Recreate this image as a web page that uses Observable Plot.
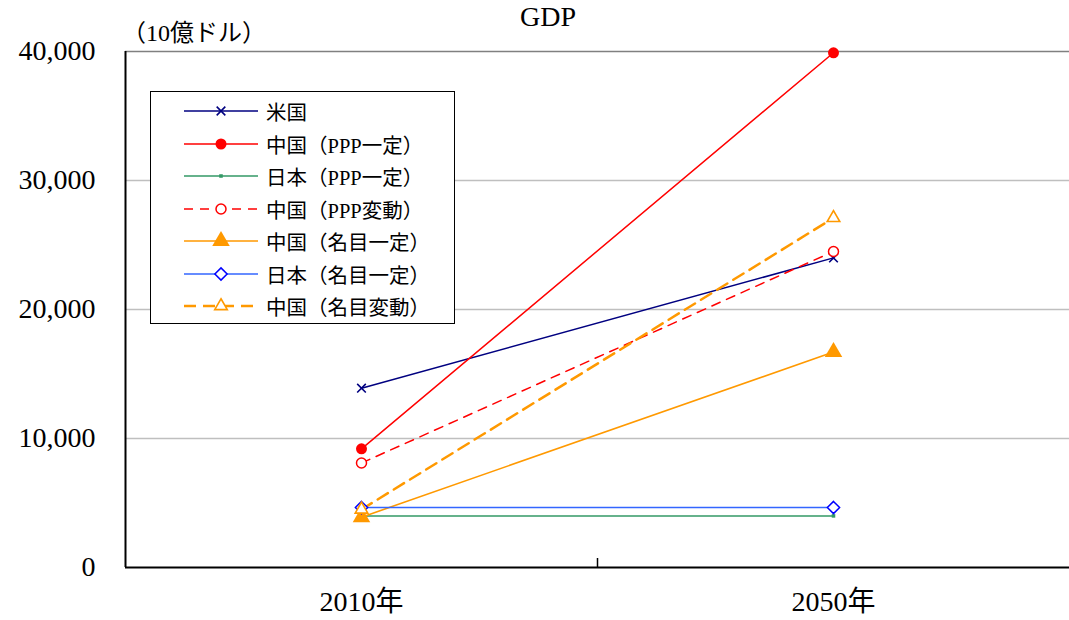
<!DOCTYPE html>
<html><head><meta charset="utf-8">
<script src="https://cdn.jsdelivr.net/npm/d3@7"></script>
<script src="https://cdn.jsdelivr.net/npm/@observablehq/plot@0.6"></script>
<style>
body{margin:0;background:#fff;font-family:"Liberation Serif","Noto Sans CJK JP",serif;color:#000;}
#wrap{position:relative;width:1069px;height:620px;overflow:hidden;}
#title{position:relative;height:36px;}
#title span{position:absolute;left:548px;top:17px;transform:translate(-50%,-50%);font-size:28px;white-space:nowrap;}
#unit{position:absolute;left:122px;top:18px;font-size:24px;white-space:nowrap;line-height:30px;}
#legend{position:absolute;left:150px;top:91px;width:303px;height:231px;border:1.5px solid #000;background:#fff;}
.row{position:absolute;left:0;height:24px;display:flex;align-items:center;}
.row svg{display:block;}
.row span{font-size:20.5px;margin-left:8px;white-space:nowrap;}
</style></head><body>
<div id="wrap">
  <div id="title"><span>GDP</span></div>
  <div id="chart"></div>
  <div id="unit">（10億ドル）</div>
  <div id="legend"></div>
</div>
<script>
// ---- data ----
const years = [2010, 2050];
const yearLabels = ["2010年", "2050年"];
const yTicks = [0, 10000, 20000, 30000, 40000];
const seriesNames = ["米国", "中国（PPP一定）", "日本（PPP一定）", "中国（PPP変動）", "中国（名目一定）", "日本（名目一定）", "中国（名目変動）"];
const usa = [13900, 24000];
const chinaPPPConst = [9200, 39900];
const japanPPPConst = [4000, 4000];
const chinaPPPVar = [8100, 24500];
const chinaNomConst = [3900, 16700];
const japanNomConst = [4650, 4650];
const chinaNomVar = [4500, 27100];
const seriesValues = [usa, chinaPPPConst, japanPPPConst, chinaPPPVar, chinaNomConst, japanNomConst, chinaNomVar];

// ---- styles ----
const styles = [
  {line:"#000080", dash:null, w:1.5, sym:"times", symD3:d3.symbolTimes, r:4, fill:"none", stroke:"#000080", sw:1.6},
  {line:"#ff0000", dash:null, w:1.5, sym:"circle", symD3:d3.symbolCircle, r:5.5, fill:"#ff0000", stroke:"none", sw:0},
  {line:"#339966", dash:null, w:1.5, sym:"square", symD3:d3.symbolSquare, r:2, fill:"#339966", stroke:"none", sw:0},
  {line:"#ff0000", dash:"9,7", w:1.5, sym:"circle", symD3:d3.symbolCircle, r:5, fill:"#fff", stroke:"#ff0000", sw:1.5},
  {line:"#ff9900", dash:null, w:1.6, sym:"triangle", symD3:d3.symbolTriangle, r:6.5, fill:"#ff9900", stroke:"none", sw:0},
  {line:"#3366ff", dash:null, w:1.5, sym:"diamond2", symD3:d3.symbolDiamond2, r:5.5, fill:"#fff", stroke:"#0000ff", sw:1.5},
  {line:"#ff9900", dash:"12,7", w:2.5, sym:"triangle2", symD3:d3.symbolTriangle2, r:6, fill:"#fff", stroke:"#ff9900", sw:1.6}
];

const data = [];
seriesNames.forEach((name, i) => years.forEach((yr, j) => data.push({series: name, year: yr, value: seriesValues[i][j]})));

const lineMarks = [], dotMarks = [];
seriesNames.forEach((name, i) => {
  const s = styles[i];
  const d = data.filter(e => e.series === name);
  lineMarks.push(Plot.line(d, {x: "year", y: "value", stroke: s.line, strokeWidth: s.w, strokeDasharray: s.dash || undefined}));
  dotMarks.push(Plot.dot(d, {x: "year", y: "value", symbol: s.sym, r: s.r, fill: s.fill, stroke: s.stroke, strokeWidth: s.sw}));
});

const chart = Plot.plot({
  width: 1069, height: 584,
  marginLeft: 125, marginRight: 0, marginTop: 15, marginBottom: 53,
  style: {fontFamily: '"Liberation Serif","Noto Sans CJK JP",serif', fontSize: "28px", color: "#000", background: "#fff", overflow: "visible"},
  x: {domain: [1990, 2070], axis: null},
  y: {domain: [0, 40000], axis: null},
  marks: [
    Plot.ruleY(yTicks.slice(1, 4), {stroke: "#bfbfbf", strokeWidth: 1.5}),
    Plot.ruleY([40000], {stroke: "#808080", strokeWidth: 1.5}),
    Plot.axisY({ticks: yTicks, tickFormat: d => d3.format(",")(d), tickSize: 0, tickPadding: 30, fontSize: 28, label: null}),
    Plot.axisX({ticks: years, tickFormat: d => yearLabels[years.indexOf(d)], tickSize: 0, tickPadding: 24, fontSize: 28, label: null}),
    Plot.ruleX([2030], {y1: 0, y2: 700, stroke: "#000", strokeWidth: 1.5}),
    Plot.ruleX([1990], {stroke: "#000", strokeWidth: 2}),
    Plot.ruleY([0], {stroke: "#000", strokeWidth: 2}),
    ...lineMarks,
    ...dotMarks
  ]
});
document.getElementById("chart").appendChild(chart);

// ---- legend ----
const legend = document.getElementById("legend");
seriesNames.forEach((name, i) => {
  const s = styles[i];
  const row = document.createElement("div");
  row.className = "row";
  row.style.top = (7 + i * 32.5) + "px";
  const svg = d3.create("svg").attr("width", 107).attr("height", 24);
  svg.append("line").attr("x1", 33).attr("x2", 107).attr("y1", 12).attr("y2", 12)
    .attr("stroke", s.line).attr("stroke-width", s.w).attr("stroke-dasharray", s.dash);
  svg.append("path").attr("transform", "translate(70,12)")
    .attr("d", d3.symbol(s.symD3, Math.PI * s.r * s.r)())
    .attr("fill", s.fill).attr("stroke", s.stroke).attr("stroke-width", s.sw);
  row.appendChild(svg.node());
  const t = document.createElement("span");
  t.textContent = name;
  row.appendChild(t);
  legend.appendChild(row);
});
</script>
</body></html>
